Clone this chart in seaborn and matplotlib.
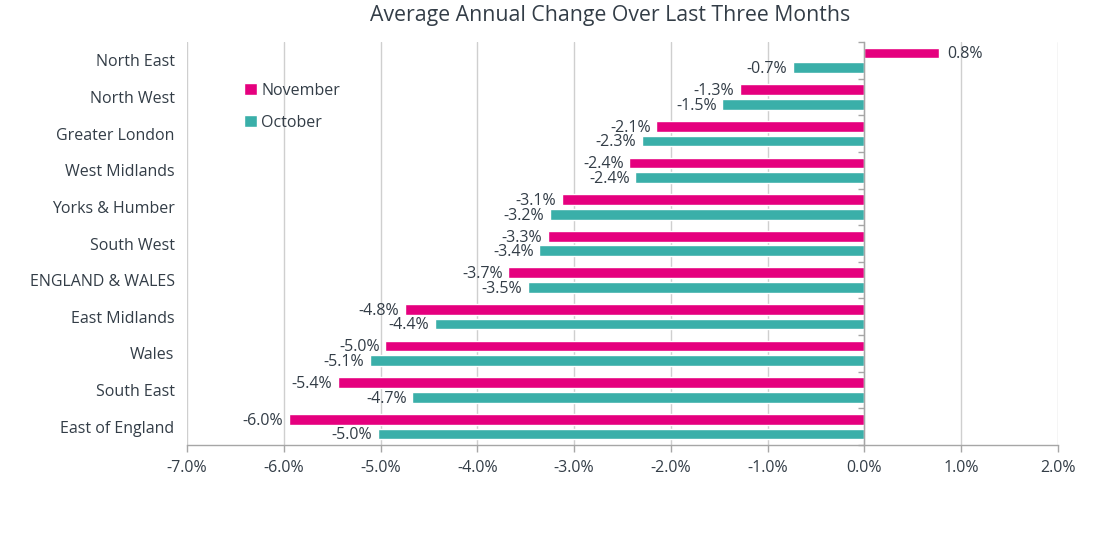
import numpy as np
import pandas as pd
import matplotlib
matplotlib.use("Agg")
import matplotlib.pyplot as plt
import seaborn as sns

regions = ["North East", "North West", "Greater London", "West Midlands",
           "Yorks & Humber", "South West", "ENGLAND & WALES", "East Midlands",
           "Wales", "South East", "East of England"]
november = [0.77, -1.29, -2.15, -2.43, -3.13, -3.27, -3.68, -4.75, -4.95, -5.44, -5.95]
october = [-0.74, -1.47, -2.30, -2.37, -3.25, -3.36, -3.48, -4.44, -5.11, -4.67, -5.03]
series = ["November", "October"]
xticks = [-7, -6, -5, -4, -3, -2, -1, 0, 1, 2]

df = pd.DataFrame({
    "region": regions * 2,
    "value": november + october,
    "series": [series[0]] * len(regions) + [series[1]] * len(regions),
})

sns.set_theme(style="white")
plt.rcParams["font.family"] = ["Open Sans", "DejaVu Sans"]
TEXT = "#333d47"
GREY = "#a6a6a6"

fig = plt.figure(figsize=(10.93, 5.44), dpi=100)
ax = fig.add_axes([187 / 1093, 1 - 445 / 544, (1058 - 187) / 1093, (445 - 42) / 544])

palette = {"November": "#e5007e", "October": "#3aafa9"}
sns.barplot(data=df, y="region", x="value", hue="series", order=regions,
            hue_order=series, palette=palette, orient="h", width=0.8, gap=0.27,
            saturation=1, ax=ax, zorder=3)

ax.set_xlim(-7, 2)
ax.set_ylim(len(regions) - 0.5, -0.5)
ax.set_xticks(xticks)
ax.set_xticklabels([f"{t:.1f}%" for t in xticks], fontsize=11.5, color=TEXT)
ax.tick_params(axis="x", direction="out", length=5, width=1, color=GREY, pad=6, bottom=True)
ax.tick_params(axis="y", length=0, labelsize=11.5, labelcolor=TEXT, pad=9)
ax.set_xlabel("")
ax.set_ylabel("")
ax.grid(axis="x", color="#cfcfcf", linewidth=1, zorder=0)
ax.grid(axis="y", visible=False)
for s in ["left", "right", "top"]:
    ax.spines[s].set_visible(False)
ax.spines["bottom"].set_color(GREY)
ax.spines["bottom"].set_linewidth(1)

# zero axis line with category tick marks (twin axes whose left spine sits at x=0)
ax2 = ax.twinx()
ax2.set_ylim(ax.get_ylim())
ax2.grid(False)
for s in ["right", "top", "bottom"]:
    ax2.spines[s].set_visible(False)
ax2.spines["left"].set_visible(True)
ax2.spines["left"].set_position(("axes", 7 / 9))
ax2.spines["left"].set_color(GREY)
ax2.spines["left"].set_linewidth(1)
ax2.set_yticks(np.arange(-0.5, len(regions), 1))
ax2.yaxis.set_ticks_position("left")
ax2.tick_params(axis="y", which="major", direction="out", length=4, width=1,
                color=GREY, left=True, right=False, labelleft=False, labelright=False)
for t in ax2.yaxis.get_major_ticks():
    t.tick1line.set_visible(True)
    t.tick1line.set_color(GREY)

for cont in ax.containers:
    labels = [f"{v:.1f}%" for v in cont.datavalues]
    for bar, lab, v in zip(cont, labels, cont.datavalues):
        y = bar.get_y() + bar.get_height() / 2
        if v >= 0:
            ax.annotate(lab, (v, y), xytext=(6, -1), textcoords="offset points",
                        ha="left", va="center", fontsize=11.5, color=TEXT)
        else:
            ax.annotate(lab, (v, y), xytext=(-4, -1), textcoords="offset points",
                        ha="right", va="center", fontsize=11.5, color=TEXT)

leg = ax.legend(loc="upper left", bbox_to_anchor=(0.058, 0.915), frameon=False,
                fontsize=11.5, handlelength=0.8, handleheight=0.8,
                handletextpad=0.3, labelspacing=1.0, borderaxespad=0)
for t in leg.get_texts():
    t.set_color(TEXT)

fig.suptitle("Average Annual Change Over Last Three Months", x=0.558, y=0.99,
             fontsize=15.3, color=TEXT, va="top")

fig.savefig("out.png", dpi=100)
